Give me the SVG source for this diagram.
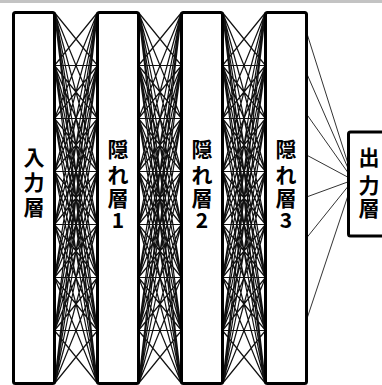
<svg xmlns="http://www.w3.org/2000/svg" width="382" height="385" viewBox="0 0 382 385">
<style>
.layer{fill:#fff;stroke:#000;stroke-width:3}
.lbl{font-family:"Noto Sans CJK JP","Noto Sans CJK SC",sans-serif;font-weight:bold;font-size:21px;text-anchor:middle;fill:#000}
.edge{fill:none;stroke:#111;stroke-width:1.2}
.out{fill:none;stroke:#333;stroke-width:1}
</style>
<defs>
<path id="mesh" d="M0 0L43 53M0 0L43 106M0 0L43 159M0 0L43 212M0 0L43 265M0 0L43 318M0 0L43 371
M0 53L43 0M0 53L43 53M0 53L43 106M0 53L43 159M0 53L43 212M0 53L43 265M0 53L43 318M0 53L43 371
M0 106L43 0M0 106L43 53M0 106L43 106M0 106L43 159M0 106L43 212M0 106L43 265M0 106L43 318M0 106L43 371
M0 159L43 0M0 159L43 53M0 159L43 106M0 159L43 159M0 159L43 212M0 159L43 265M0 159L43 318M0 159L43 371
M0 212L43 0M0 212L43 53M0 212L43 106M0 212L43 159M0 212L43 212M0 212L43 265M0 212L43 318M0 212L43 371
M0 265L43 0M0 265L43 53M0 265L43 106M0 265L43 159M0 265L43 212M0 265L43 265M0 265L43 318M0 265L43 371
M0 318L43 0M0 318L43 53M0 318L43 106M0 318L43 159M0 318L43 212M0 318L43 265M0 318L43 318M0 318L43 371
M0 371L43 0M0 371L43 53M0 371L43 106M0 371L43 159M0 371L43 212M0 371L43 265M0 371L43 318"/>
</defs>
<rect x="0" y="0" width="382" height="3" fill="#c3c3c3"/>
<g id="connectors">
<g class="edge">
<use href="#mesh" x="54.5" y="12.5"/>
<use href="#mesh" x="138.5" y="12.5"/>
<use href="#mesh" x="222.5" y="12.5"/>
</g>
<path class="out" d="M306.5 32L348.5 165.2M306.5 73L348.5 169.3M306.5 114L348.5 173.4M306.5 155L348.5 177.5M306.5 197L348.5 181.7M306.5 238L348.5 185.8M306.5 320L348.5 194"/>
</g>
<g id="input">
<rect class="layer" x="13.5" y="12.5" width="41" height="371" rx="2"/>
<text class="lbl" x="34" y="165">入</text>
<text class="lbl" x="34" y="190">力</text>
<text class="lbl" x="34" y="215">層</text>
</g>
<g id="hidden1">
<rect class="layer" x="97.5" y="12.5" width="41" height="371" rx="2"/>
<text class="lbl" x="118" y="157">隠</text>
<text class="lbl" x="118" y="183">れ</text>
<text class="lbl" x="118" y="206">層</text>
<text class="lbl" x="118" y="228">1</text>
</g>
<g id="hidden2">
<rect class="layer" x="181.5" y="12.5" width="41" height="371" rx="2"/>
<text class="lbl" x="202" y="157">隠</text>
<text class="lbl" x="202" y="183">れ</text>
<text class="lbl" x="202" y="206">層</text>
<text class="lbl" x="202" y="228">2</text>
</g>
<g id="hidden3">
<rect class="layer" x="265.5" y="12.5" width="41" height="371" rx="2"/>
<text class="lbl" x="286" y="157">隠</text>
<text class="lbl" x="286" y="183">れ</text>
<text class="lbl" x="286" y="206">層</text>
<text class="lbl" x="286" y="228">3</text>
</g>
<g id="output">
<rect class="layer" x="348.5" y="132" width="44" height="104" rx="2"/>
<text class="lbl" x="369" y="165">出</text>
<text class="lbl" x="369" y="193">力</text>
<text class="lbl" x="369" y="216">層</text>
</g>
</svg>
